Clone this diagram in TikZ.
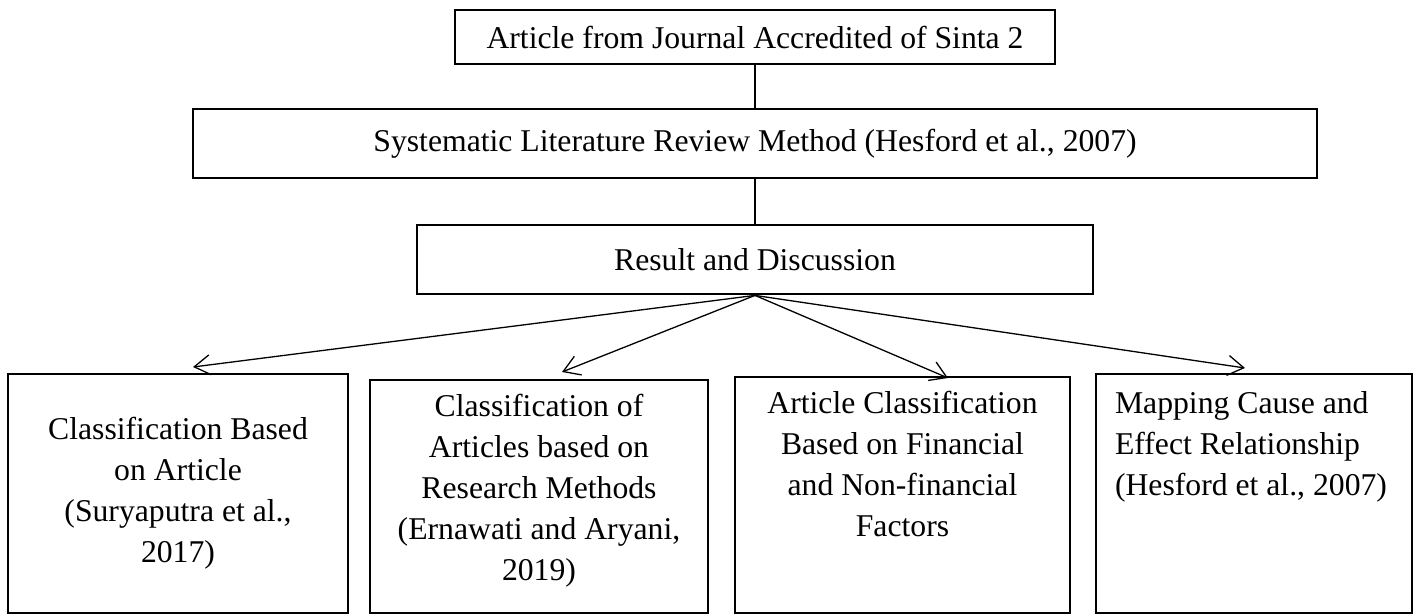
\documentclass[tikz,border=0pt]{standalone}
\usepackage{fontspec}
\setmainfont{Liberation Serif}
\usetikzlibrary{arrows.meta}
\tikzset{
  box/.style={draw, line width=1.4pt, inner sep=0pt, align=center,
    font=\rmfamily\fontsize{15.85pt}{20.5pt}\selectfont},
  link/.style={line width=0.55pt},
  arr/.style={line width=0.65pt, -{Straight Barb[length=8pt,width=10pt,line width=0.65pt]}}
}
\begin{document}
\begin{tikzpicture}[x=0.5pt,y=-0.5pt]
\fill[white] (0,0) rectangle (1416,615);
\useasboundingbox (0,0) rectangle (1416,615);
\node[box, minimum width=300pt, minimum height=27pt] (top) at (755,37) {Article from Journal Accredited of Sinta 2};
\node[box, minimum width=562pt, minimum height=34.5pt] (sys) at (755,143.5) {Systematic Literature Review Method (Hesford et al., 2007)};
\node[box, minimum width=338pt, minimum height=34.5pt] (res) at (755,259.5) {Result and Discussion};
\node[box, minimum width=170pt, minimum height=119.5pt] (b1) at (178,493.5) {Classification Based\\on Article\\(Suryaputra et al.,\\2017)};
\node[box, minimum width=169pt, minimum height=116.5pt] (b2) at (539,496.5) {\parbox[c][116.5pt][t]{169pt}{\centering\rule{0pt}{18pt}Classification of\\Articles based on\\Research Methods\\(Ernawati and Aryani,\\2019)}};
\node[box, minimum width=167.5pt, minimum height=118pt] (b3) at (902.5,495) {\parbox[c][118pt][t]{167.5pt}{\centering\rule{0pt}{18pt}Article Classification\\Based on Financial\\and Non-financial\\Factors}};
\node[box, minimum width=158pt, minimum height=119.5pt] (b4) at (1254,493.5) {\parbox[c][119.5pt][t]{158pt}{\raggedright\leftskip=9.5pt\rule{0pt}{19.5pt}Mapping Cause and\\Effect Relationship\\(Hesford et al., 2007)}};
\draw[link] (top.south) -- (sys.north);
\draw[link] (sys.south) -- (res.north);
\coordinate (t1) at (193,367);
\coordinate (t2) at (562,372);
\coordinate (t3) at (948,378);
\coordinate (t4) at (1245,368);
\draw[arr] (res.south) -- (t1);
\draw[arr] (res.south) -- (t2);
\draw[arr] (res.south) -- (t3);
\draw[arr] (res.south) -- (t4);
\end{tikzpicture}
\end{document}
